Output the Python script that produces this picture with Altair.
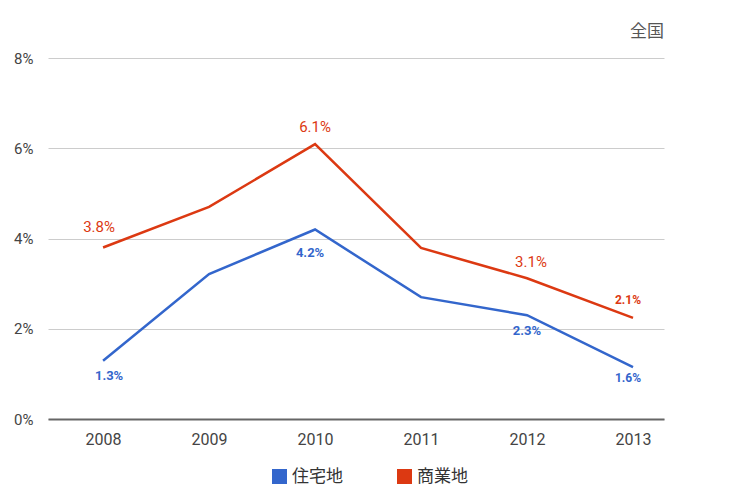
import altair as alt
import pandas as pd

years = ["2008", "2009", "2010", "2011", "2012", "2013"]
residential = [1.29, 3.21, 4.20, 2.70, 2.30, 1.15]
commercial = [3.80, 4.70, 6.09, 3.79, 3.12, 2.24]
series_names = ["住宅地", "商業地"]
colors = ["#3366cc", "#dc3912"]
res_labels = ["1.3%", "", "4.2%", "", "2.3%", "1.6%"]
com_labels = ["3.8%", "", "6.1%", "", "3.1%", "2.1%"]
y_ticks = [0, 2, 4, 6, 8]

FONT = "Roboto, 'Noto Sans CJK JP', sans-serif"

rows = []
for i, yr in enumerate(years):
    rows.append(dict(year=yr, series=series_names[0], value=residential[i], label=res_labels[i]))
    rows.append(dict(year=yr, series=series_names[1], value=commercial[i], label=com_labels[i]))
df = pd.DataFrame(rows)

X = alt.X("year:O", scale=alt.Scale(type="point", padding=0.406, align=0.64),
          axis=alt.Axis(title=None, labelAngle=0, ticks=False, domain=True,
                        domainColor="#666666", domainWidth=2, grid=False,
                        labelFontSize=16, labelColor="#444444", labelPadding=12,
                        labelFont=FONT))
Y = alt.Y("value:Q", scale=alt.Scale(domain=[0, 8], nice=False, zero=True),
          axis=alt.Axis(title=None, values=y_ticks, labelExpr="datum.value + '%'",
                        ticks=False, domain=False, grid=True, gridColor="#cccccc",
                        labelFontSize=15, labelColor="#444444", labelPadding=15,
                        labelFont=FONT))

color = alt.Color("series:N", scale=alt.Scale(domain=series_names, range=colors),
                  legend=alt.Legend(title=None, orient="none", legendX=223, legendY=410,
                                    direction="horizontal", symbolType="square",
                                    symbolSize=49, symbolStrokeWidth=8,
                                    labelFontSize=17, labelColor="#333333",
                                    labelFont=FONT, columnPadding=42, labelOffset=4))

lines = alt.Chart(df).mark_line(strokeWidth=2.5).encode(x=X, y=Y, color=color)


def lbl(series, year, col, dx, dy, size, weight):
    return alt.Chart(df).transform_filter(
        (alt.datum.series == series) & (alt.datum.year == year)
    ).mark_text(dx=dx, dy=dy, fontSize=size, fontWeight=weight, color=col,
                font=FONT).encode(x=X, y=Y, text="label:N")


labels = [
    lbl(series_names[1], "2008", colors[1], -4, -21, 15, "normal"),
    lbl(series_names[1], "2010", colors[1], 0, -17, 15, "normal"),
    lbl(series_names[1], "2012", colors[1], 4, -16, 15, "normal"),
    lbl(series_names[1], "2013", colors[1], -5, -18, 12, "bold"),
    lbl(series_names[0], "2008", colors[0], 6, 15, 13, "bold"),
    lbl(series_names[0], "2010", colors[0], -5, 24, 13, "bold"),
    lbl(series_names[0], "2012", colors[0], 0, 16, 13, "bold"),
    lbl(series_names[0], "2013", colors[0], -5, 11, 12, "bold"),
]

chart = alt.layer(lines, *labels).properties(
    width=616, height=361,
    background="white",
    title=alt.TitleParams("全国", anchor="end", fontSize=17, color="#555555",
                          fontWeight="normal", offset=10, font=FONT),
    autosize=alt.AutoSizeParams(type="none"),
    padding={"left": 40, "top": 50, "right": 50, "bottom": 70},
).configure_view(strokeWidth=0)

chart.save("out.html", embed_options={"renderer": "svg", "actions": False})
